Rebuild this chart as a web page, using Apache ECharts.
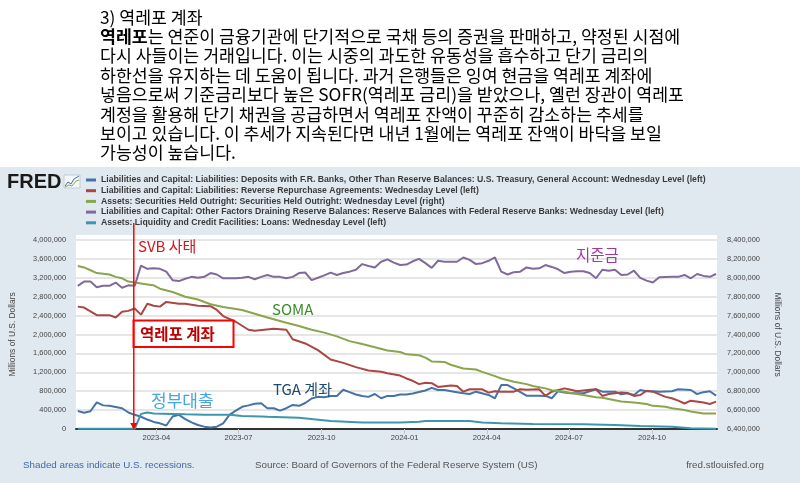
<!DOCTYPE html>
<html><head><meta charset="utf-8">
<script src="https://cdn.jsdelivr.net/npm/echarts@6/dist/echarts.min.js"></script>
<style>html,body{margin:0;padding:0;background:#fff}#c{width:800px;height:483px}</style>
</head><body><div id="c"></div><script>
// ---------------- data (Millions of U.S. Dollars, weekly Wednesday levels) ----------------
const seriesNames = [
  'Liabilities and Capital: Liabilities: Deposits with F.R. Banks, Other Than Reserve Balances: U.S. Treasury, General Account: Wednesday Level (left)',
  'Liabilities and Capital: Liabilities: Reverse Repurchase Agreements: Wednesday Level (left)',
  'Assets: Securities Held Outright: Securities Held Outright: Wednesday Level (right)',
  'Liabilities and Capital: Other Factors Draining Reserve Balances: Reserve Balances with Federal Reserve Banks: Wednesday Level (left)',
  'Assets: Liquidity and Credit Facilities: Loans: Wednesday Level (left)'
];
const xRange = ['2023-01-02', '2024-12-12'];
const xTickLabels = ['2023-04-01','2023-07-01','2023-10-01','2024-01-01','2024-04-01','2024-07-01','2024-10-01'];
const leftAxisRange = [0, 4000000, 400000];
const rightAxisRange = [6400000, 8400000, 200000];
const svbDate = '2023-03-07';

const tga = [['2023-01-04',380000],['2023-01-11',345000],['2023-01-18',375000],['2023-01-25',565000],['2023-02-01',500000],['2023-02-08',490000],['2023-02-15',465000],['2023-02-22',440000],['2023-03-01',350000],['2023-03-08',300000],['2023-03-15',260000],['2023-03-22',200000],['2023-03-29',150000],['2023-04-05',120000],['2023-04-12',75000],['2023-04-19',265000],['2023-04-26',300000],['2023-05-03',210000],['2023-05-10',140000],['2023-05-17',85000],['2023-05-24',50000],['2023-05-31',30000],['2023-06-07',50000],['2023-06-14',120000],['2023-06-21',300000],['2023-06-28',390000],['2023-07-05',470000],['2023-07-12',500000],['2023-07-19',535000],['2023-07-26',545000],['2023-08-02',440000],['2023-08-09',440000],['2023-08-16',390000],['2023-08-23',440000],['2023-08-30',510000],['2023-09-06',490000],['2023-09-13',550000],['2023-09-20',645000],['2023-09-27',680000],['2023-10-04',670000],['2023-10-11',700000],['2023-10-18',700000],['2023-10-25',830000],['2023-11-01',780000],['2023-11-08',730000],['2023-11-15',700000],['2023-11-22',680000],['2023-11-29',740000],['2023-12-06',650000],['2023-12-13',700000],['2023-12-20',700000],['2023-12-27',730000],['2024-01-03',730000],['2024-01-10',750000],['2024-01-24',815000],['2024-01-31',870000],['2024-02-07',825000],['2024-02-14',825000],['2024-02-28',780000],['2024-03-06',755000],['2024-03-13',740000],['2024-03-20',790000],['2024-04-03',720000],['2024-04-10',650000],['2024-04-17',930000],['2024-04-24',930000],['2024-05-01',860000],['2024-05-15',705000],['2024-05-29',705000],['2024-06-05',700000],['2024-06-12',650000],['2024-06-19',800000],['2024-06-26',770000],['2024-07-03',755000],['2024-07-17',755000],['2024-07-31',840000],['2024-08-07',790000],['2024-08-21',790000],['2024-08-28',735000],['2024-09-04',755000],['2024-09-11',720000],['2024-09-18',825000],['2024-09-25',800000],['2024-10-02',800000],['2024-10-09',790000],['2024-10-23',800000],['2024-10-30',840000],['2024-11-13',825000],['2024-11-20',740000],['2024-11-27',780000],['2024-12-04',800000],['2024-12-11',705000]];

const rrp = [['2023-01-04',2590000],['2023-01-11',2570000],['2023-01-25',2410000],['2023-02-08',2410000],['2023-02-15',2360000],['2023-02-22',2480000],['2023-03-01',2500000],['2023-03-08',2550000],['2023-03-15',2420000],['2023-03-22',2650000],['2023-03-29',2610000],['2023-04-05',2590000],['2023-04-12',2690000],['2023-04-26',2650000],['2023-05-03',2650000],['2023-05-17',2610000],['2023-05-31',2600000],['2023-06-07',2520000],['2023-06-14',2390000],['2023-06-28',2270000],['2023-07-12',2100000],['2023-07-19',2080000],['2023-08-09',2120000],['2023-08-23',2100000],['2023-08-30',1900000],['2023-09-13',1810000],['2023-09-27',1670000],['2023-10-11',1470000],['2023-10-25',1400000],['2023-11-08',1310000],['2023-11-22',1240000],['2023-12-06',1210000],['2023-12-13',1180000],['2023-12-27',1130000],['2024-01-03',1070000],['2024-01-10',1020000],['2024-01-17',950000],['2024-01-24',980000],['2024-01-31',970000],['2024-02-07',890000],['2024-02-21',920000],['2024-02-28',910000],['2024-03-06',790000],['2024-03-13',840000],['2024-03-27',840000],['2024-04-03',770000],['2024-04-10',800000],['2024-04-17',790000],['2024-05-01',790000],['2024-05-08',840000],['2024-05-15',830000],['2024-05-29',840000],['2024-06-05',700000],['2024-06-12',790000],['2024-06-26',860000],['2024-07-03',830000],['2024-07-10',800000],['2024-07-24',830000],['2024-07-31',840000],['2024-08-07',700000],['2024-08-14',740000],['2024-08-28',770000],['2024-09-04',760000],['2024-09-11',700000],['2024-09-18',720000],['2024-09-25',810000],['2024-10-02',790000],['2024-10-16',680000],['2024-10-23',650000],['2024-10-30',600000],['2024-11-06',540000],['2024-11-13',600000],['2024-11-27',560000],['2024-12-04',530000],['2024-12-11',580000]];

const soma = [['2023-01-04',8125000],['2023-01-11',8110000],['2023-01-18',8080000],['2023-01-25',8050000],['2023-02-08',8035000],['2023-02-15',8010000],['2023-02-22',7995000],['2023-03-01',7960000],['2023-03-08',7950000],['2023-03-22',7930000],['2023-03-29',7920000],['2023-04-05',7885000],['2023-04-19',7850000],['2023-05-03',7800000],['2023-05-17',7770000],['2023-05-31',7720000],['2023-06-14',7690000],['2023-07-05',7660000],['2023-07-19',7620000],['2023-08-02',7580000],['2023-08-23',7525000],['2023-09-06',7490000],['2023-09-20',7450000],['2023-10-04',7420000],['2023-10-18',7380000],['2023-11-01',7330000],['2023-11-15',7300000],['2023-11-29',7265000],['2023-12-13',7230000],['2023-12-27',7215000],['2024-01-03',7190000],['2024-01-17',7180000],['2024-01-24',7155000],['2024-01-31',7115000],['2024-02-14',7110000],['2024-02-21',7080000],['2024-03-06',7040000],['2024-03-20',7030000],['2024-03-27',7005000],['2024-04-10',6960000],['2024-04-17',6935000],['2024-05-01',6900000],['2024-05-15',6875000],['2024-05-22',6855000],['2024-06-05',6830000],['2024-06-12',6810000],['2024-06-26',6795000],['2024-07-03',6780000],['2024-07-17',6760000],['2024-07-31',6735000],['2024-08-07',6730000],['2024-08-21',6705000],['2024-08-28',6690000],['2024-09-11',6680000],['2024-09-25',6665000],['2024-10-02',6645000],['2024-10-16',6635000],['2024-10-23',6620000],['2024-11-06',6600000],['2024-11-13',6585000],['2024-11-27',6565000],['2024-12-11',6565000]];

const reserves = [['2023-01-04',3030000],['2023-01-11',3120000],['2023-01-18',3120000],['2023-01-25',3000000],['2023-02-01',3030000],['2023-02-08',3030000],['2023-02-15',3100000],['2023-02-22',2990000],['2023-03-01',3040000],['2023-03-08',3030000],['2023-03-15',3460000],['2023-03-22',3390000],['2023-03-29',3400000],['2023-04-05',3390000],['2023-04-12',3330000],['2023-04-19',3150000],['2023-04-26',3130000],['2023-05-03',3180000],['2023-05-10',3220000],['2023-05-17',3200000],['2023-05-24',3220000],['2023-05-31',3300000],['2023-06-07',3270000],['2023-06-14',3190000],['2023-06-21',3190000],['2023-06-28',3190000],['2023-07-05',3200000],['2023-07-12',3220000],['2023-07-19',3170000],['2023-07-26',3220000],['2023-08-02',3260000],['2023-08-09',3220000],['2023-08-16',3220000],['2023-08-23',3190000],['2023-08-30',3220000],['2023-09-06',3300000],['2023-09-13',3310000],['2023-09-20',3150000],['2023-09-27',3200000],['2023-10-04',3250000],['2023-10-11',3310000],['2023-10-18',3260000],['2023-10-25',3300000],['2023-11-01',3330000],['2023-11-08',3370000],['2023-11-15',3490000],['2023-11-22',3450000],['2023-11-29',3420000],['2023-12-06',3540000],['2023-12-13',3590000],['2023-12-20',3520000],['2023-12-27',3470000],['2024-01-03',3480000],['2024-01-10',3550000],['2024-01-17',3600000],['2024-01-24',3510000],['2024-01-31',3410000],['2024-02-07',3560000],['2024-02-14',3540000],['2024-02-21',3540000],['2024-02-28',3540000],['2024-03-06',3630000],['2024-03-13',3580000],['2024-03-20',3490000],['2024-03-27',3510000],['2024-04-03',3560000],['2024-04-10',3630000],['2024-04-17',3330000],['2024-04-24',3270000],['2024-05-01',3320000],['2024-05-08',3330000],['2024-05-15',3420000],['2024-05-22',3390000],['2024-05-29',3400000],['2024-06-05',3470000],['2024-06-12',3430000],['2024-06-19',3380000],['2024-06-26',3300000],['2024-07-03',3330000],['2024-07-10',3340000],['2024-07-17',3340000],['2024-07-24',3300000],['2024-07-31',3190000],['2024-08-07',3370000],['2024-08-14',3350000],['2024-08-21',3370000],['2024-08-28',3260000],['2024-09-04',3270000],['2024-09-11',3350000],['2024-09-18',3200000],['2024-09-25',3140000],['2024-10-02',3100000],['2024-10-09',3210000],['2024-10-23',3220000],['2024-10-30',3220000],['2024-11-06',3260000],['2024-11-13',3190000],['2024-11-20',3280000],['2024-11-27',3240000],['2024-12-04',3220000],['2024-12-11',3280000]];

const loans = [['2023-01-04',5000],['2023-03-08',5000],['2023-03-15',320000],['2023-03-22',350000],['2023-03-29',330000],['2023-04-19',320000],['2023-05-03',310000],['2023-05-24',300000],['2023-06-21',300000],['2023-07-05',275000],['2023-07-26',265000],['2023-08-02',260000],['2023-09-06',240000],['2023-10-11',170000],['2023-11-15',135000],['2023-12-06',135000],['2023-12-27',135000],['2024-01-17',155000],['2024-01-24',170000],['2024-02-21',170000],['2024-03-13',170000],['2024-03-27',140000],['2024-04-17',120000],['2024-05-22',105000],['2024-07-17',100000],['2024-08-21',85000],['2024-09-18',65000],['2024-10-23',50000],['2024-11-13',15000],['2024-12-11',5000]];

const introLines = [
  '3) 역레포 계좌',
  '{b|역레포}는 연준이 금융기관에 단기적으로 국채 등의 증권을 판매하고, 약정된 시점에',
  '다시 사들이는 거래입니다. 이는 시중의 과도한 유동성을 흡수하고 단기 금리의',
  '하한선을 유지하는 데 도움이 됩니다. 과거 은행들은 잉여 현금을 역레포 계좌에',
  '넣음으로써 기준금리보다 높은 SOFR(역레포 금리)을 받았으나, 옐런 장관이 역레포',
  '계정을 활용해 단기 채권을 공급하면서 역레포 잔액이 꾸준히 감소하는 추세를',
  '보이고 있습니다. 이 추세가 지속된다면 내년 1월에는 역레포 잔액이 바닥을 보일',
  '가능성이 높습니다.'
];

// ---------------- styling ----------------
const colors = ['#4572a7', '#aa4643', '#89a54e', '#80699b', '#3d96ae'];
const KR = '"Noto Sans CJK KR", "Noto Sans", sans-serif';
const LF = '"Liberation Sans", Arial, sans-serif';
const ts = s => new Date(s + 'T00:00:00').getTime();
const fmt = v => Number(v).toLocaleString('en-US');
const toPts = d => d.map(p => [ts(p[0]), p[1]]);

const chart = echarts.init(document.getElementById('c'), null, {renderer: 'canvas'});

const seriesData = [tga, rrp, soma, reserves, loans];
const series = seriesData.map((d, i) => ({
  name: seriesNames[i], type: 'line', data: toPts(d), yAxisIndex: i === 2 ? 1 : 0,
  showSymbol: false, symbol: 'none', lineStyle: {width: 2, color: colors[i]}, itemStyle: {color: colors[i]},
  emphasis: {disabled: true}, animation: false
}));

const graphics = [];
graphics.push({type: 'rect', shape: {x: 0, y: 0, width: 800, height: 167}, style: {fill: '#ffffff'}, z: -10, silent: true});
graphics.push({type: 'rect', shape: {x: 76, y: 235, width: 641, height: 5}, style: {fill: '#ffffff'}, z: -10, silent: true});
introLines.forEach((t, k) => {
  graphics.push({type: 'text', x: 100, y: 17 + 19.4 * k, z: 5, silent: true, style: {
    text: t, fontSize: 17.3, fontFamily: KR, fill: '#000',
    align: 'left', verticalAlign: 'middle', textAlign: 'left', textVerticalAlign: 'middle',
    rich: {b: {fontSize: 17.3, fontFamily: KR, fontWeight: 'bold', fill: '#000'}}
  }});
});
// FRED logo
graphics.push({type: 'text', x: 7, y: 182, z: 5, silent: true, style: {text: 'FRED', fontSize: 20, fontWeight: 900, fontFamily: LF, fill: '#1a1a1a', align: 'left', verticalAlign: 'middle', textAlign: 'left', textVerticalAlign: 'middle'}});
graphics.push({type: 'rect', shape: {x: 64, y: 175, width: 16, height: 13}, style: {fill: '#f4f6f8', stroke: '#b9c3cc', lineWidth: 0.8}, z: 5, silent: true});
graphics.push({type: 'polyline', shape: {points: [[65, 186], [68, 182], [71, 184], [74, 179], [79, 176]]}, style: {stroke: '#4572a7', lineWidth: 1, fill: null}, z: 6, silent: true});
graphics.push({type: 'polyline', shape: {points: [[65, 187], [69, 185], [72, 186], [76, 181], [79, 180]]}, style: {stroke: '#89a54e', lineWidth: 1, fill: null}, z: 6, silent: true});
// footer
const foot = (text, x, align, color) => graphics.push({type: 'text', x, y: 465, z: 5, silent: true, style: {text, fontSize: 9.8, fontFamily: LF, fill: color, align, verticalAlign: 'middle', textAlign: align, textVerticalAlign: 'middle'}});
foot('Shaded areas indicate U.S. recessions.', 23, 'left', '#3f6aa6');
foot('Source: Board of Governors of the Federal Reserve System (US)', 255, 'left', '#555555');
foot('fred.stlouisfed.org', 764, 'right', '#555555');
// annotations
const ann = (text, x, y, color, size, weight) => graphics.push({type: 'text', x, y, z: 20, silent: true, style: {text, fontSize: size, fontWeight: weight || 'normal', fontFamily: KR, fill: color, align: 'left', verticalAlign: 'middle', textAlign: 'left', textVerticalAlign: 'middle'}});
ann('SVB 사태', 138, 246.5, '#d7141a', 15);
ann('SOMA', 272, 309, '#3d8b2a', 15);
ann('TGA 계좌', 273, 389, '#1f4a72', 15);
ann('정부대출', 151, 401, '#45a5dc', 17);
ann('지준금', 576, 255, '#a5389f', 15.5);
graphics.push({type: 'rect', shape: {x: 133.5, y: 320.5, width: 100, height: 26.5}, style: {fill: '#ffffff', stroke: '#ff0000', lineWidth: 2}, z: 19, silent: true});
ann('역레포 계좌', 140, 333.8, '#c00000', 15.5, 'bold');

const tickVals = xTickLabels.map(ts);
const option = {
  backgroundColor: '#e1e9f0',
  animation: false,
  textStyle: {fontFamily: LF},
  grid: {left: 76, right: 83, top: 240, bottom: 54, show: true, backgroundColor: '#ffffff', borderWidth: 0, containLabel: false},
  legend: {
    orient: 'vertical', left: 86, top: 175, padding: 0, itemWidth: 10, itemHeight: 3, itemGap: 0.7, icon: 'rect',
    selectedMode: false, data: seriesNames,
    textStyle: {fontSize: 8.7, fontWeight: 'bold', color: '#3a3a3a', fontFamily: LF, lineHeight: 10, padding: 0}
  },
  xAxis: {
    type: 'value', min: ts(xRange[0]), max: ts(xRange[1]),
    axisLine: {show: true, lineStyle: {color: '#333333', width: 2}},
    axisTick: {show: true, length: 5, lineStyle: {color: '#c8c8c8'}, customValues: tickVals},
    axisLabel: {fontSize: 7.6, color: '#444', margin: 5, fontFamily: LF, customValues: tickVals,
      formatter: v => { const d = new Date(v); return d.getFullYear() + '-' + String(d.getMonth() + 1).padStart(2, '0'); }},
    splitLine: {show: false}
  },
  yAxis: [
    {type: 'value', position: 'left', min: leftAxisRange[0], max: leftAxisRange[1], interval: leftAxisRange[2],
      name: 'Millions of U.S. Dollars', nameLocation: 'middle', nameRotate: 90, nameGap: 59,
      nameTextStyle: {fontSize: 8.4, color: '#444', fontFamily: LF},
      axisLine: {show: false}, axisTick: {show: false},
      axisLabel: {fontSize: 7.4, color: '#444', margin: 10, formatter: fmt, fontFamily: LF},
      splitLine: {show: true, lineStyle: {color: '#e6e6e6', width: 2}}},
    {type: 'value', position: 'right', min: rightAxisRange[0], max: rightAxisRange[1], interval: rightAxisRange[2],
      name: 'Millions of U.S. Dollars', nameLocation: 'middle', nameRotate: -90, nameGap: 56,
      nameTextStyle: {fontSize: 8.4, color: '#444', fontFamily: LF},
      axisLine: {show: false}, axisTick: {show: false},
      axisLabel: {fontSize: 7.4, color: '#444', margin: 10, formatter: fmt, fontFamily: LF},
      splitLine: {show: false}}
  ],
  series,
  graphic: {elements: graphics}
};
chart.setOption(option);

// SVB event marker, positioned through the x scale
const px = chart.convertToPixel({xAxisIndex: 0}, ts(svbDate));
graphics.push({type: 'line', shape: {x1: px, y1: 223, x2: px, y2: 424}, style: {stroke: '#ff0000', lineWidth: 1.5}, z: 21, silent: true});
graphics.push({type: 'polygon', shape: {points: [[px - 3.5, 423], [px + 3.5, 423], [px, 430]]}, style: {fill: '#ff0000'}, z: 21, silent: true});
chart.setOption({graphic: {elements: graphics}}, {replaceMerge: ['graphic']});
</script></body></html>
